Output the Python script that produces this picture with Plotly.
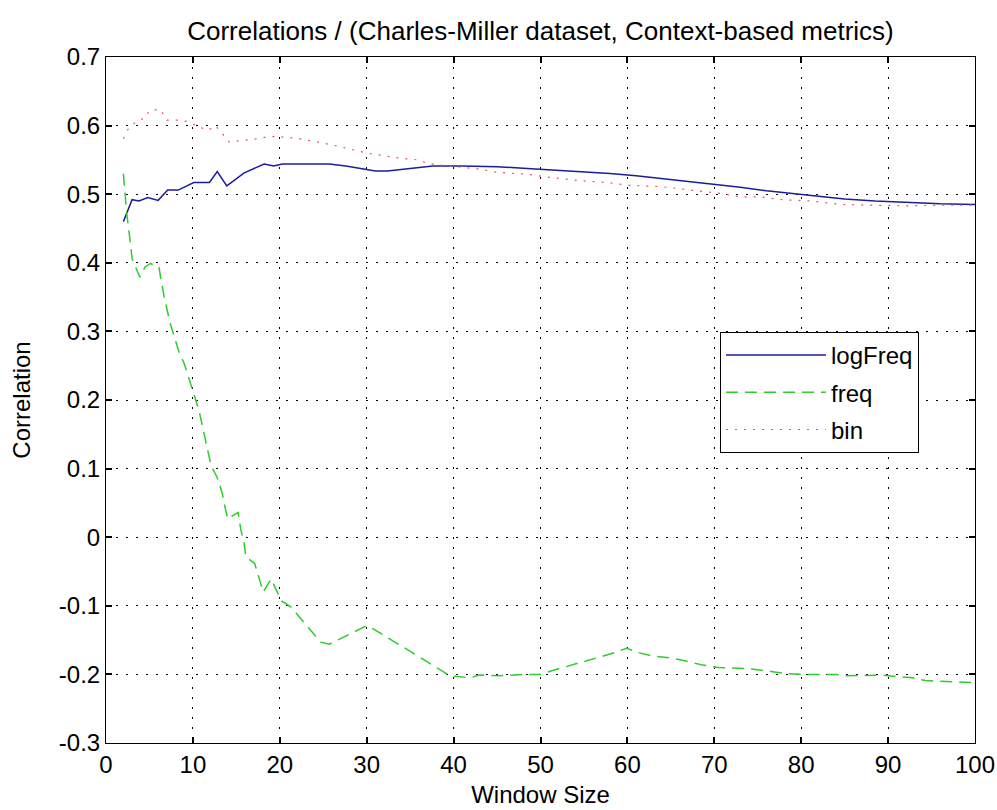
import plotly.graph_objects as go

# ---- data ----
logfreq_x = [2, 3.0, 3.8, 4.8, 6.0, 7.1, 8.3, 10.1, 11.9, 12.8, 13.9, 15.9, 18.2, 19.3, 20.3,
             25.7, 27.6, 29.1, 31, 32.4, 35, 37.6, 41, 45, 48, 52, 55, 58, 61, 64, 67, 70,
             73, 76, 79, 82, 85, 88.5, 92, 96, 100]
logfreq_y = [0.46, 0.492, 0.490, 0.495, 0.491, 0.506, 0.506, 0.517, 0.517, 0.533, 0.512, 0.531,
             0.544, 0.541, 0.544, 0.544, 0.541, 0.538, 0.534, 0.534, 0.538, 0.541, 0.541, 0.540,
             0.538, 0.535, 0.532, 0.530, 0.527, 0.523, 0.519, 0.515, 0.510, 0.505, 0.501, 0.497,
             0.493, 0.490, 0.488, 0.486, 0.485]

freq_x = [2, 2.4, 2.8, 3.0, 3.9, 4.5, 5.1, 6.1, 6.3, 6.7, 7.4, 8.4, 9.0, 9.7, 10.7, 11.3, 12.1,
          12.8, 13.4, 13.6, 14.0, 15.2, 15.5, 15.9, 16.1, 17.1, 17.7, 18.1, 19.0, 19.6, 20.2,
          21.3, 23.5, 24.7, 25.7, 27.7, 30.0, 30.8, 32.3, 34.3, 39.6, 41.9, 43, 45.1, 48.2, 50,
          51.2, 53.1, 55.8, 58.1, 59.9, 61.2, 62.8, 65, 66.6, 68.5, 70.5, 72, 74.3, 76.7, 78.2,
          80.1, 84, 85.1, 89.4, 90.9, 92.8, 94.3, 96.7, 100]
freq_y = [0.530, 0.470, 0.430, 0.406, 0.379, 0.394, 0.399, 0.394, 0.377, 0.350, 0.311, 0.270,
          0.253, 0.224, 0.185, 0.150, 0.104, 0.087, 0.063, 0.049, 0.027, 0.036, 0.012, -0.009,
          -0.029, -0.038, -0.063, -0.080, -0.061, -0.078, -0.093, -0.102, -0.136, -0.153,
          -0.156, -0.144, -0.129, -0.134, -0.146, -0.161, -0.202, -0.205, -0.201, -0.202,
          -0.200, -0.200, -0.195, -0.188, -0.178, -0.170, -0.162, -0.168, -0.173, -0.176,
          -0.180, -0.186, -0.190, -0.191, -0.192, -0.196, -0.199, -0.200, -0.200, -0.202,
          -0.201, -0.203, -0.205, -0.209, -0.210, -0.212]

bin_x = [2, 2.6, 3.5, 4.4, 5.1, 6.3, 7.0, 8.2, 9.3, 10.5, 11.7, 12.6, 13.6, 14.2, 17.5, 18.7,
         19.9, 22.2, 24.4, 26.7, 30, 33.6, 35.9, 37, 39.4, 42.8, 45, 48.5, 50.8, 54.2, 57.7,
         60, 63.9, 67.4, 70.8, 73.1, 75.4, 77.8, 81.2, 84.7, 88, 92, 96, 100]
bin_y = [0.581, 0.596, 0.606, 0.611, 0.623, 0.623, 0.608, 0.608, 0.606, 0.600, 0.593, 0.600,
         0.586, 0.576, 0.581, 0.584, 0.584, 0.581, 0.576, 0.570, 0.560, 0.553, 0.550, 0.545,
         0.541, 0.537, 0.532, 0.529, 0.525, 0.520, 0.517, 0.513, 0.511, 0.506, 0.501, 0.496,
         0.496, 0.492, 0.490, 0.485, 0.484, 0.483, 0.484, 0.484]

x_ticks = [0, 10, 20, 30, 40, 50, 60, 70, 80, 90, 100]
y_ticks = [-0.3, -0.2, -0.1, 0, 0.1, 0.2, 0.3, 0.4, 0.5, 0.6, 0.7]
y_tick_text = ["-0.3", "-0.2", "-0.1", "0", "0.1", "0.2", "0.3", "0.4", "0.5", "0.6", "0.7"]

FONT = "Liberation Sans, Arial, sans-serif"

fig = go.Figure()
fig.add_trace(go.Scatter(x=logfreq_x, y=logfreq_y, mode="lines", name="logFreq",
                         legendgroup="a",
                         line=dict(color="#1c1c9c", width=1.5)))
fig.add_trace(go.Scatter(x=freq_x, y=freq_y, mode="lines", name="freq",
                         legendgroup="b",
                         line=dict(color="#2ecc2e", width=1.5, dash="12px,7px")))
fig.add_trace(go.Scatter(x=bin_x, y=bin_y, mode="lines", name="bin",
                         legendgroup="c",
                         line=dict(color="#e05a5a", width=1.2, dash="2px,7px")))

axis_common = dict(
    showline=True, linecolor="black", linewidth=1, mirror="ticks",
    ticks="inside", ticklen=6, tickcolor="black", tickwidth=1.5,
    showgrid=True, gridcolor="black", gridwidth=1, griddash="2px,8px",
    zeroline=False, automargin=False,
    tickfont=dict(family=FONT, size=24, color="black"),
)

fig.update_layout(
    width=997, height=810,
    paper_bgcolor="white", plot_bgcolor="white",
    margin=dict(l=106, r=22, t=57, b=67),
    font=dict(family=FONT, color="black"),
    title=dict(text="Correlations / (Charles-Miller dataset, Context-based metrics)",
               x=(106 + 975) / 2 / 997, xanchor="center", y=1 - 31 / 810, yanchor="middle",
               font=dict(family=FONT, size=26, color="black")),
    xaxis=dict(range=[0, 100], tickvals=x_ticks,
               title=dict(text="Window Size", font=dict(family=FONT, size=24), standoff=9),
               **axis_common),
    yaxis=dict(range=[-0.3, 0.7], tickvals=y_ticks, ticktext=y_tick_text,
               title=dict(text="Correlation", font=dict(family=FONT, size=24), standoff=21),
               **axis_common),
    legend=dict(x=(720 - 106) / 869, y=(743 - 332) / 686, xanchor="left", yanchor="top",
                bgcolor="white", bordercolor="black", borderwidth=1,
                font=dict(family=FONT, size=24, color="black"),
                itemwidth=100, tracegroupgap=3),
    showlegend=True,
)

fig.write_html("out.html", config={"displayModeBar": False},
               post_script="document.body.style.margin='0px';")
